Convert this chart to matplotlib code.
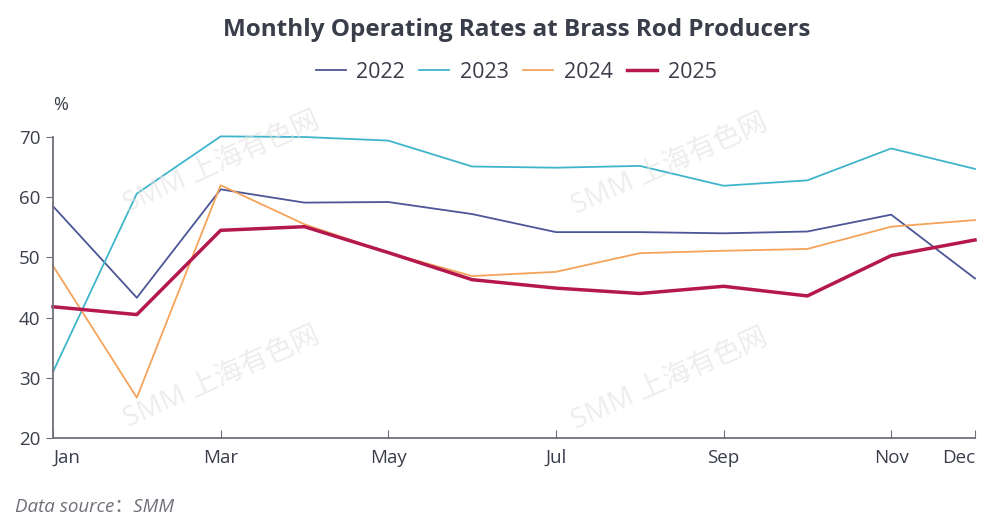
import matplotlib.pyplot as plt
import numpy as np

months = ['Jan', 'Feb', 'Mar', 'Apr', 'May', 'Jun', 'Jul', 'Aug', 'Sep', 'Oct', 'Nov', 'Dec']
shown_ticks = ['Jan', 'Mar', 'May', 'Jul', 'Sep', 'Nov', 'Dec']

rate_2022 = [58.5, 43.3, 61.3, 59.1, 59.2, 57.2, 54.2, 54.2, 54.0, 54.3, 57.1, 46.5]
rate_2023 = [31.0, 60.6, 70.1, 70.0, 69.4, 65.1, 64.9, 65.2, 61.9, 62.8, 68.1, 64.7]
rate_2024 = [48.6, 26.7, 62.0, 55.5, 50.8, 46.9, 47.6, 50.7, 51.1, 51.4, 55.1, 56.2]
rate_2025 = [41.8, 40.5, 54.5, 55.1, 50.8, 46.3, 44.9, 44.0, 45.2, 43.6, 50.3, 52.9]

plt.rcParams['font.family'] = ['Open Sans', 'Noto Sans CJK SC', 'DejaVu Sans']
text_col = '#3a3d4a'
axis_col = '#6e7079'

fig = plt.figure(figsize=(9.99, 5.30), dpi=100)
ax = fig.add_axes([53/999, 1 - 438/530, 922/999, 301/530])

x = np.arange(len(months))
ax.plot(x, rate_2022, color='#4c5596', lw=1.3, label='2022', clip_on=False)
ax.plot(x, rate_2023, color='#3fb5cb', lw=1.3, label='2023', clip_on=False)
ax.plot(x, rate_2024, color='#f5a35a', lw=1.3, label='2024', clip_on=False)
ax.plot(x, rate_2025, color='#b5184e', lw=2.5, label='2025', clip_on=False)

ax.set_xlim(0, 11)
ax.set_ylim(20, 70)
ax.set_yticks([20, 30, 40, 50, 60, 70])
tick_pos = [months.index(m) for m in shown_ticks]
ax.set_xticks(tick_pos)
ax.set_xticklabels(shown_ticks)
for lab in ax.get_xticklabels():
    if lab.get_text() == 'Jan':
        lab.set_horizontalalignment('left')
    if lab.get_text() == 'Dec':
        lab.set_horizontalalignment('right')
ax.tick_params(axis='x', direction='in', length=6, color=axis_col, labelcolor=text_col, labelsize=13.5, pad=8)
ax.tick_params(axis='y', direction='out', length=5, color=axis_col, labelcolor=text_col, labelsize=13.5, pad=4)

for s in ['top', 'right']:
    ax.spines[s].set_visible(False)
for s in ['left', 'bottom']:
    ax.spines[s].set_color(axis_col)
    ax.spines[s].set_linewidth(1.3)

ax.text(0, 1.075, '%', transform=ax.transAxes, fontsize=13, color=text_col, ha='left', va='bottom')

# watermark
for wx, wy in [(222, 163), (222, 378), (670, 165), (670, 380)]:
    fig.text(wx/999, 1 - wy/530, 'SMM 上海有色网', fontsize=20, color='#e2e2e2', alpha=0.6,
             rotation=24, ha='center', va='center', zorder=0)

fig.text(0.5 + 17/999, 1 - 30/530, 'Monthly Operating Rates at Brass Rod Producers', ha='center', va='center',
         fontsize=17.5, fontweight='bold', color=text_col)

fig.legend(loc='center', bbox_to_anchor=(516/999, 1 - 72/530), ncol=4, frameon=False,
           fontsize=15.5, handlelength=1.4, columnspacing=0.65, handletextpad=0.5, labelcolor=text_col)

fig.text(15/999, 1 - 507/530, 'Data source：SMM', fontsize=13.5, style='italic', color='#6e7079',
         ha='left', va='center')

fig.savefig('out.png', dpi=100, facecolor='white')
